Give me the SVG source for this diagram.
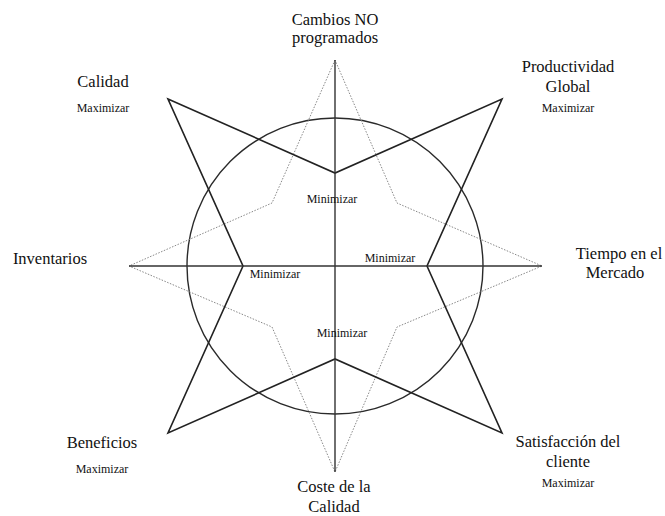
<svg xmlns="http://www.w3.org/2000/svg" width="665" height="516" viewBox="0 0 665 516">
  <style>
    .axis { stroke: #333; stroke-width: 1.4; fill: none; }
    .ring { stroke: #2a2a2a; stroke-width: 1.4; fill: none; }
    .star { stroke: #222; stroke-width: 1.6; fill: none; stroke-linejoin: miter; }
    .dots { stroke: #888; stroke-width: 1; fill: none; stroke-dasharray: 1.5 1.5; }
    .lbl { font-size: 16.5px; fill: #111; text-anchor: middle; }
    .sub { font-size: 12px; fill: #111; text-anchor: middle; }
  </style>

  <g id="connectors">
    <!-- outer circle -->
    <circle class="ring" cx="335" cy="266" r="148"/>
    <!-- four-point dotted star along the axes -->
    <polygon class="dots" points="335,60 272,203 129,266 272,327 335,472 397,327 542,266 397,203"/>
    <!-- four-point solid star along the diagonals -->
    <polygon class="star" points="168,99 335,173 502,99 427,266 502,433 335,359 168,433 243,266"/>
    <!-- axes -->
    <line class="axis" x1="335" y1="60" x2="335" y2="472"/>
    <line class="axis" x1="129" y1="266" x2="542" y2="266"/>
  </g>

  <g font-family="Liberation Serif, DejaVu Serif, Times New Roman, serif">
    <g id="cambios">
      <text class="lbl" x="335" y="25">Cambios NO</text>
      <text class="lbl" x="335" y="43">programados</text>
      <text class="sub" x="332" y="203">Minimizar</text>
    </g>

    <g id="productividad">
      <text class="lbl" x="568" y="72">Productividad</text>
      <text class="lbl" x="568" y="92">Global</text>
      <text class="sub" x="568" y="112">Maximizar</text>
    </g>

    <g id="tiempo">
      <text class="lbl" x="619" y="259">Tiempo en el</text>
      <text class="lbl" x="615" y="278">Mercado</text>
      <text class="sub" x="390" y="262">Minimizar</text>
    </g>

    <g id="satisfaccion">
      <text class="lbl" x="568" y="447">Satisfacción del</text>
      <text class="lbl" x="568" y="467">cliente</text>
      <text class="sub" x="568" y="487">Maximizar</text>
    </g>

    <g id="coste">
      <text class="lbl" x="334" y="492">Coste de la</text>
      <text class="lbl" x="334" y="512">Calidad</text>
      <text class="sub" x="342" y="337">Minimizar</text>
    </g>

    <g id="beneficios">
      <text class="lbl" x="102" y="448">Beneficios</text>
      <text class="sub" x="102" y="473">Maximizar</text>
    </g>

    <g id="inventarios">
      <text class="lbl" x="50" y="264">Inventarios</text>
      <text class="sub" x="275" y="278">Minimizar</text>
    </g>

    <g id="calidad">
      <text class="lbl" x="103" y="87">Calidad</text>
      <text class="sub" x="103" y="112">Maximizar</text>
    </g>
  </g>
</svg>
